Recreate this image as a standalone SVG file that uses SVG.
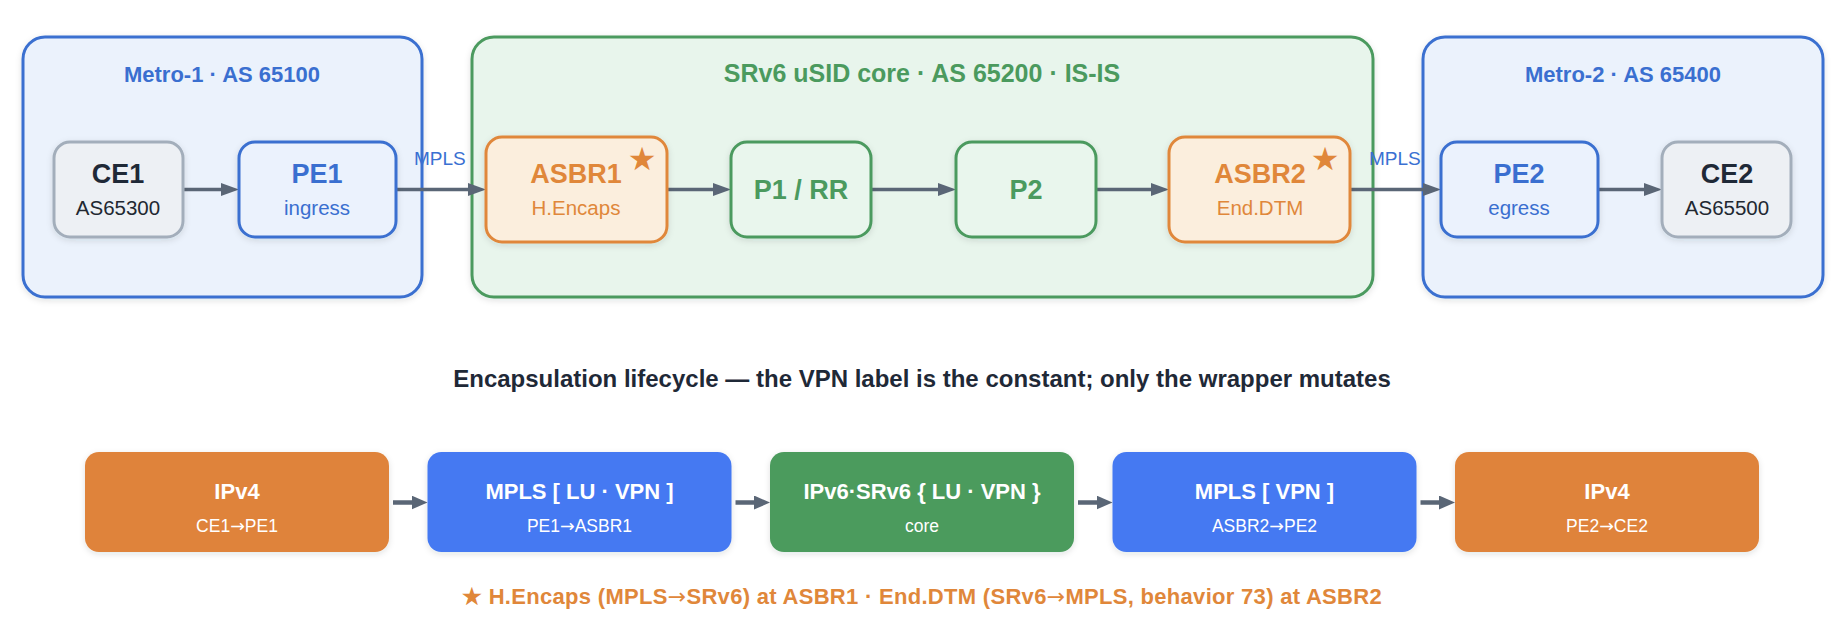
<svg xmlns="http://www.w3.org/2000/svg" width="1840" height="628" viewBox="0 0 1840 628">
  <defs>
    <style>
      text { font-family: "Liberation Sans", Arial, sans-serif; }
      .arw { font-family: "DejaVu Sans", sans-serif; font-weight: normal; }
      .grp-title { font-size: 22px; font-weight: bold; text-anchor: middle; }
      .core-title { font-size: 25px; font-weight: bold; text-anchor: middle; }
      .n-title { font-size: 27px; font-weight: bold; text-anchor: middle; }
      .n-sub { font-size: 20.5px; text-anchor: middle; }
      .edge-lbl { font-size: 19px; fill: #3a70d2; }
      .star { font-family: "DejaVu Sans", sans-serif; font-size: 32px; fill: #e0873a; text-anchor: middle; }
      .blue-grp { fill: #ebf2fc; stroke: #3a6fd0; stroke-width: 3; }
      .green-grp { fill: #e8f5ec; stroke: #4b9a5e; stroke-width: 3; }
      .gray-node { fill: #edf0f4; stroke: #a3aebb; stroke-width: 3; }
      .blue-node { fill: #ebf2fd; stroke: #3a6fd0; stroke-width: 3; }
      .green-node { fill: #e9f6ed; stroke: #4b9a5e; stroke-width: 3; }
      .orange-node { fill: #fbeedd; stroke: #e0873a; stroke-width: 3; }
      .blue-txt { fill: #3a6fd0; }
      .green-txt { fill: #4b9a5e; }
      .orange-txt { fill: #e0873a; }
      .dark-txt { fill: #1f2937; }
      .conn-top { stroke: #5a6676; stroke-width: 3.5; fill: none; marker-end: url(#arrTop); }
      .conn-bot { stroke: #5a6676; stroke-width: 4.5; fill: none; marker-end: url(#arrBot); }
      .pkt-title { font-size: 22px; font-weight: bold; fill: #ffffff; text-anchor: middle; }
      .pkt-sub { font-size: 17.5px; fill: #ffffff; text-anchor: middle; }
      .pkt-orange { fill: #df833a; }
      .pkt-blue { fill: #4479f2; }
      .pkt-green { fill: #4b9b5d; }
    </style>
    <filter id="shadow" x="-20%" y="-20%" width="140%" height="150%">
      <feDropShadow dx="0" dy="2" stdDeviation="3" flood-color="#1f2937" flood-opacity="0.12"/>
    </filter>
    <marker id="arrTop" markerUnits="userSpaceOnUse" markerWidth="18" markerHeight="13" refX="2" refY="6.5" orient="auto">
      <path d="M0,0 L18,6.5 L0,13 z" fill="#5a6676"/>
    </marker>
    <marker id="arrBot" markerUnits="userSpaceOnUse" markerWidth="16" markerHeight="14" refX="2" refY="7" orient="auto">
      <path d="M0,0 L16,7 L0,14 z" fill="#5a6676"/>
    </marker>
  </defs>

  <rect width="1840" height="628" fill="#ffffff"/>

  <!-- Groups -->
  <g id="metro1">
    <rect class="blue-grp" x="23" y="37" width="399" height="260" rx="22" filter="url(#shadow)"/>
    <text class="grp-title blue-txt" x="222" y="82">Metro-1 · AS 65100</text>
  </g>
  <g id="core">
    <rect class="green-grp" x="472" y="37" width="901" height="260" rx="22" filter="url(#shadow)"/>
    <text class="core-title green-txt" x="922" y="82">SRv6 uSID core · AS 65200 · IS-IS</text>
  </g>
  <g id="metro2">
    <rect class="blue-grp" x="1423" y="37" width="400" height="260" rx="22" filter="url(#shadow)"/>
    <text class="grp-title blue-txt" x="1623" y="82">Metro-2 · AS 65400</text>
  </g>

  <!-- Connectors -->
  <g id="connectors">
    <line class="conn-top" x1="183" y1="189.5" x2="223" y2="189.5"/>
    <line class="conn-top" x1="396" y1="189.5" x2="470" y2="189.5"/>
    <line class="conn-top" x1="667" y1="189.5" x2="715" y2="189.5"/>
    <line class="conn-top" x1="871" y1="189.5" x2="940" y2="189.5"/>
    <line class="conn-top" x1="1096" y1="189.5" x2="1153" y2="189.5"/>
    <line class="conn-top" x1="1350" y1="189.5" x2="1425" y2="189.5"/>
    <line class="conn-top" x1="1598" y1="189.5" x2="1646" y2="189.5"/>
    <text class="edge-lbl" x="414" y="165">MPLS</text>
    <text class="edge-lbl" x="1369" y="165">MPLS</text>

    <line class="conn-bot" x1="393" y1="502.5" x2="413.5" y2="502.5"/>
    <line class="conn-bot" x1="735.5" y1="502.5" x2="756" y2="502.5"/>
    <line class="conn-bot" x1="1078" y1="502.5" x2="1098.5" y2="502.5"/>
    <line class="conn-bot" x1="1420.5" y1="502.5" x2="1441" y2="502.5"/>
  </g>

  <!-- Nodes -->
  <g id="CE1">
    <rect class="gray-node" x="54" y="142" width="129" height="95" rx="16" filter="url(#shadow)"/>
    <text class="n-title dark-txt" x="118" y="182.5">CE1</text>
    <text class="n-sub" x="118" y="215" fill="#222831">AS65300</text>
  </g>
  <g id="PE1">
    <rect class="blue-node" x="239" y="142" width="157" height="95" rx="16" filter="url(#shadow)"/>
    <text class="n-title blue-txt" x="317" y="182.5">PE1</text>
    <text class="n-sub blue-txt" x="317" y="215">ingress</text>
  </g>
  <g id="ASBR1">
    <rect class="orange-node" x="486" y="137" width="181" height="105" rx="16" filter="url(#shadow)"/>
    <text class="n-title orange-txt" x="576" y="182.5">ASBR1</text>
    <text class="n-sub orange-txt" x="576" y="215">H.Encaps</text>
    <text class="star" x="642" y="170">★</text>
  </g>
  <g id="P1">
    <rect class="green-node" x="731" y="142" width="140" height="95" rx="16" filter="url(#shadow)"/>
    <text class="n-title green-txt" x="801" y="198.5">P1 / RR</text>
  </g>
  <g id="P2">
    <rect class="green-node" x="956" y="142" width="140" height="95" rx="16" filter="url(#shadow)"/>
    <text class="n-title green-txt" x="1026" y="198.5">P2</text>
  </g>
  <g id="ASBR2">
    <rect class="orange-node" x="1169" y="137" width="181" height="105" rx="16" filter="url(#shadow)"/>
    <text class="n-title orange-txt" x="1260" y="182.5">ASBR2</text>
    <text class="n-sub orange-txt" x="1260" y="215">End.DTM</text>
    <text class="star" x="1325" y="170">★</text>
  </g>
  <g id="PE2">
    <rect class="blue-node" x="1441" y="142" width="157" height="95" rx="16" filter="url(#shadow)"/>
    <text class="n-title blue-txt" x="1519" y="182.5">PE2</text>
    <text class="n-sub blue-txt" x="1519" y="215">egress</text>
  </g>
  <g id="CE2">
    <rect class="gray-node" x="1662" y="142" width="129" height="95" rx="16" filter="url(#shadow)"/>
    <text class="n-title dark-txt" x="1727" y="182.5">CE2</text>
    <text class="n-sub" x="1727" y="215" fill="#222831">AS65500</text>
  </g>

  <!-- Lifecycle -->
  <g id="lifecycle-title">
    <text x="922" y="387" font-size="24" font-weight="bold" fill="#1f2937" text-anchor="middle">Encapsulation lifecycle — the VPN label is the constant; only the wrapper mutates</text>
  </g>
  <g id="pkt-ipv4-in">
    <rect class="pkt-orange" x="85" y="452" width="304" height="100" rx="14" filter="url(#shadow)"/>
    <text class="pkt-title" x="237" y="498.5">IPv4</text>
    <text class="pkt-sub" x="237" y="531.5">CE1<tspan class="arw">→</tspan>PE1</text>
  </g>
  <g id="pkt-mpls-luvpn">
    <rect class="pkt-blue" x="427.5" y="452" width="304" height="100" rx="14" filter="url(#shadow)"/>
    <text class="pkt-title" x="579.5" y="498.5">MPLS [ LU · VPN ]</text>
    <text class="pkt-sub" x="579.5" y="531.5">PE1<tspan class="arw">→</tspan>ASBR1</text>
  </g>
  <g id="pkt-srv6">
    <rect class="pkt-green" x="770" y="452" width="304" height="100" rx="14" filter="url(#shadow)"/>
    <text class="pkt-title" x="922" y="498.5">IPv6·SRv6 { LU · VPN }</text>
    <text class="pkt-sub" x="922" y="531.5">core</text>
  </g>
  <g id="pkt-mpls-vpn">
    <rect class="pkt-blue" x="1112.5" y="452" width="304" height="100" rx="14" filter="url(#shadow)"/>
    <text class="pkt-title" x="1264.5" y="498.5">MPLS [ VPN ]</text>
    <text class="pkt-sub" x="1264.5" y="531.5">ASBR2<tspan class="arw">→</tspan>PE2</text>
  </g>
  <g id="pkt-ipv4-out">
    <rect class="pkt-orange" x="1455" y="452" width="304" height="100" rx="14" filter="url(#shadow)"/>
    <text class="pkt-title" x="1607" y="498.5">IPv4</text>
    <text class="pkt-sub" x="1607" y="531.5">PE2<tspan class="arw">→</tspan>CE2</text>
  </g>
  <g id="legend">
    <text x="922" y="604" font-size="22" font-weight="bold" letter-spacing="0.3" fill="#e0873a" text-anchor="middle">★ H.Encaps (MPLS<tspan class="arw">→</tspan>SRv6) at ASBR1 · End.DTM (SRv6<tspan class="arw">→</tspan>MPLS, behavior 73) at ASBR2</text>
  </g>
</svg>
